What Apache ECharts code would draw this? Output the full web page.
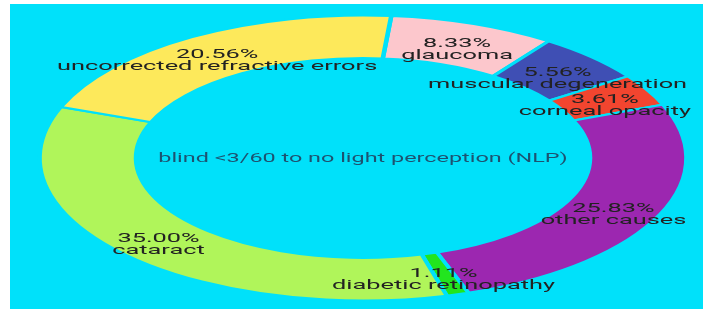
<!DOCTYPE html>
<html>
<head>
<meta charset="utf-8">
<script src="https://cdn.jsdelivr.net/npm/echarts@6/dist/echarts.min.js"></script>
<style>
html, body { margin: 0; padding: 0; background: #fff; }
#chart { position: absolute; left: 10px; top: 4px; width: 693px; height: 305px; }
</style>
</head>
<body>
<div id="chart"></div>
<script>
// clockwise from the top
const causes = ['glaucoma', 'muscular degeneration', 'corneal opacity', 'other causes',
    'diabetic retinopathy', 'cataract', 'uncorrected refractive errors'];
const percents = [8.33, 5.56, 3.61, 25.83, 1.11, 35.00, 20.56];
const colors = ['#fcc7cc', '#3f4fb4', '#f2452f', '#9c27b0', '#22e51e', '#b0f55a', '#fde95b'];
const centerTitle = 'blind <3/60 to no light perception (NLP)';

const bg = '#00e1fa';
const stretch = 2.27;     // the ring is drawn as an ellipse
const textStretch = 1.95; // labels are wide too

// start / end of every slice along the angle axis
let acc = 0;
const slices = percents.map(function (p, i) {
    const item = { name: causes[i], value: [acc, acc + p, p] };
    acc += p;
    return item;
});

const chart = echarts.init(document.getElementById('chart'));
chart.setOption({
    animation: false,
    backgroundColor: bg,
    polar: {
        center: [353, 154],
        radius: [100, 142.5]
    },
    angleAxis: {
        type: 'value', min: 0, max: 100,
        startAngle: 85, clockwise: true, show: false
    },
    radiusAxis: {
        type: 'value', min: 0, max: 1, show: false
    },
    graphic: [{
        type: 'text',
        x: 353, y: 155,
        scaleX: 1.8,
        style: {
            text: centerTitle,
            x: 0, y: 0,
            align: 'center', verticalAlign: 'middle',
            font: '13px Roboto',
            fill: '#1d5270'
        }
    }],
    series: [{
        type: 'custom',
        coordinateSystem: 'polar',
        data: slices,
        renderItem: function (params, api) {
            const cs = params.coordSys;
            const a0 = api.value(0), a1 = api.value(1);
            const p0 = api.coord([1, a0]);
            const p1 = api.coord([1, a1]);
            let s = Math.atan2(p0[1] - cs.cy, p0[0] - cs.cx);
            let e = Math.atan2(p1[1] - cs.cy, p1[0] - cs.cx);
            if (e <= s) e += Math.PI * 2;
            const mid = api.coord([0.5, (a0 + a1) / 2]);
            const i = params.dataIndex;
            return {
                type: 'group',
                children: [{
                    type: 'sector',
                    shape: { cx: cs.cx, cy: cs.cy, r: cs.r, r0: cs.r0, startAngle: s, endAngle: e, clockwise: true },
                    scaleX: stretch, originX: cs.cx, originY: cs.cy,
                    style: { fill: colors[i], stroke: bg, lineWidth: 2 }
                }, {
                    type: 'text',
                    z2: 100,
                    x: cs.cx + (mid[0] - cs.cx) * stretch,
                    y: mid[1] + 6, // percent line sits on the ring middle
                    scaleX: textStretch,
                    style: {
                        text: api.value(2).toFixed(2) + '%\n' + causes[i],
                        x: 0, y: 0,
                        align: 'center', verticalAlign: 'middle',
                        font: '13px Roboto',
                        lineHeight: 12,
                        fill: '#222'
                    }
                }]
            };
        }
    }]
});
</script>
</body>
</html>
